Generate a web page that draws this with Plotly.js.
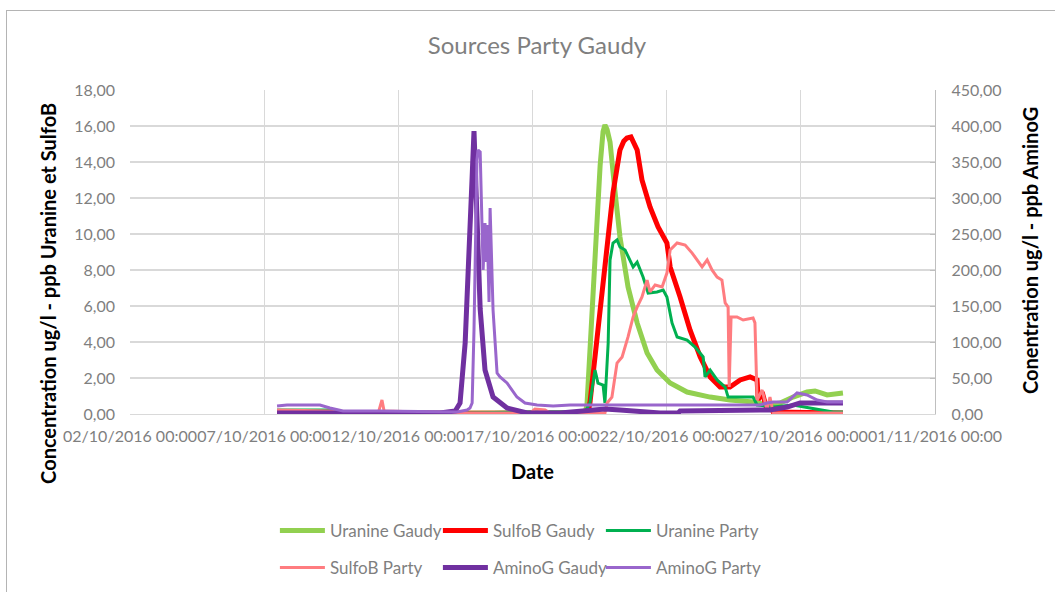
<!DOCTYPE html>
<html>
<head>
<meta charset="utf-8">
<script src="https://cdn.plot.ly/plotly-3.0.1.min.js"></script>
<style>
  html, body { margin: 0; padding: 0; background: #ffffff; overflow: hidden; }
  #wrap { position: absolute; left: 0; top: 0; width: 1055px; height: 592px; overflow: hidden; }
  #frame { position: absolute; left: 6px; top: 10px; width: 1200px; height: 700px; border: 1px solid #b4b4b4; box-sizing: border-box; }
  #chart { position: absolute; left: 0; top: 0; width: 1055px; height: 592px; }
</style>
</head>
<body>
<div id="wrap">
<div id="frame"></div>
<div id="chart"></div>
</div>
<script>
// x values are day-of-October 2016 (fractional days)
const uranineGaudyDay = [7.48, 18.96, 19.03, 19.22, 19.41, 19.52, 19.63, 19.70, 19.78, 19.89, 20.08, 20.26, 20.56, 20.90, 21.27, 21.64, 22.13, 22.76, 23.62, 24.36, 25.22, 25.74, 26.23, 26.71, 27.23, 27.53, 27.98, 28.46, 28.57];
const uranineGaudyVal = [0.03, 0.06, 0.5, 5.78, 11.33, 13.8, 15.7, 16.06, 15.8, 15.1, 12.28, 9.83, 7.06, 5.06, 3.39, 2.44, 1.72, 1.22, 0.94, 0.78, 0.67, 0.5, 0.61, 0.94, 1.22, 1.28, 1.06, 1.17, 1.17];

const sulfoBGaudyDay = [7.48, 19.07, 19.14, 19.52, 19.78, 20.00, 20.26, 20.40, 20.52, 20.67, 20.90, 21.08, 21.38, 21.68, 22.01, 22.13, 22.50, 22.87, 23.25, 23.62, 23.99, 24.36, 24.74, 25.11, 25.37, 25.41, 25.56, 25.74, 25.85, 25.97, 28.57];
const sulfoBGaudyVal = [0.03, 0.05, 0.61, 5.78, 9.5, 12.28, 14.67, 15.15, 15.33, 15.39, 14.67, 13.0, 11.5, 10.39, 9.5, 8.17, 6.5, 4.67, 3.17, 2.06, 1.5, 1.5, 1.89, 2.06, 1.89, 0.78, 1.22, 0.22, 0.5, 0.11, 0.05];

const uraninePartyDay = [7.48, 9.45, 9.94, 14.30, 16.91, 18.96, 19.14, 19.33, 19.44, 19.63, 19.70, 19.82, 19.89, 20.00, 20.15, 20.26, 20.45, 20.64, 20.75, 20.90, 21.01, 21.12, 21.31, 21.64, 21.87, 22.01, 22.20, 22.39, 22.76, 23.06, 23.36, 23.43, 23.62, 23.88, 24.18, 24.29, 25.22, 25.37, 25.97, 26.71, 27.34, 28.20, 28.57];
const uraninePartyVal = [0.22, 0.22, 0.11, 0.05, 0.11, 0.11, 0.61, 2.44, 1.72, 1.61, 0.61, 3.94, 8.56, 9.5, 9.67, 9.28, 9.11, 8.56, 8.17, 8.44, 8.0, 7.61, 6.72, 6.78, 6.89, 6.5, 5.06, 4.28, 4.11, 3.72, 3.17, 2.06, 2.44, 1.89, 1.5, 0.94, 0.94, 0.5, 0.39, 0.5, 0.33, 0.11, 0.11];

const sulfoBPartyDay = [7.48, 9.45, 9.94, 11.25, 11.39, 11.47, 14.30, 16.91, 17.09, 17.47, 17.65, 19.70, 19.78, 19.96, 20.15, 20.34, 20.56, 20.75, 20.90, 21.08, 21.27, 21.38, 21.57, 21.83, 22.01, 22.13, 22.39, 22.69, 22.95, 23.13, 23.32, 23.51, 23.69, 23.88, 24.06, 24.18, 24.29, 24.33, 24.40, 24.62, 24.85, 25.22, 25.29, 25.37, 25.56, 25.74, 25.85, 25.97, 28.57];
const sulfoBPartyVal = [0.22, 0.17, 0.05, 0.05, 0.78, 0.17, 0.05, 0.05, 0.28, 0.22, 0.05, 0.05, 0.61, 0.94, 2.83, 3.17, 4.28, 5.39, 5.94, 6.5, 7.44, 6.78, 7.17, 7.06, 7.83, 9.11, 9.5, 9.39, 8.94, 8.56, 8.17, 8.56, 8.0, 7.61, 7.44, 6.17, 5.94, 1.5, 5.39, 5.39, 5.22, 5.33, 5.06, 0.78, 1.33, 0.22, 0.94, 0.05, 0.05];

const aminoGGaudyDay = [7.48, 8.34, 10.57, 13.55, 14.12, 14.30, 14.49, 14.60, 14.67, 14.75, 14.82, 14.93, 15.05, 15.23, 15.53, 16.05, 16.80, 18.03, 19.14, 19.70, 20.26, 21.75, 22.43, 22.50, 25.48, 25.85, 26.49, 26.97, 27.46, 28.57];
const aminoGGaudyVal = [1.4, 1.4, 0.7, 1.4, 4.2, 15.3, 98.6, 213.9, 276, 329.2, 393, 283.3, 145.8, 61.1, 23.6, 8.3, 1.4, 1.4, 5.6, 6.9, 5.6, 1.4, 1.4, 4.2, 5.6, 5.6, 9.7, 15.3, 15.3, 15.3];

const aminoGPartyDay = [7.48, 7.85, 9.08, 9.45, 9.94, 11.32, 14.19, 14.56, 14.67, 14.75, 14.82, 14.86, 14.93, 14.97, 15.05, 15.12, 15.16, 15.23, 15.27, 15.31, 15.38, 15.42, 15.49, 15.53, 15.68, 15.79, 16.05, 16.42, 16.72, 17.17, 17.77, 18.40, 19.52, 23.25, 25.48, 25.74, 25.97, 26.49, 26.86, 27.23, 27.61, 27.98, 28.57];
const aminoGPartyVal = [11.1, 12.5, 12.5, 8.3, 4.2, 4.2, 2.8, 5.6, 8.3, 15.3, 116.7, 223.6, 352.8, 366.7, 363.9, 259.7, 200, 265.3, 211, 262.5, 155.6, 286.1, 169.4, 144.4, 56.9, 51.4, 43.1, 23.6, 15.3, 12.5, 11.1, 12.5, 12.5, 12.5, 12.5, 15.3, 16.7, 16.7, 29.2, 26.4, 19.4, 16.7, 16.7];

const seriesNames = ["Uranine Gaudy", "SulfoB Gaudy", "Uranine Party", "SulfoB Party", "AminoG Gaudy", "AminoG Party"];
const chartTitle = "Sources Party Gaudy";
const xTitle = "Date";
const yTitle = "Concentration ug/l - ppb Uranine et SulfoB";
const y2Title = "Conentration ug/l - ppb AminoG";

const octStart = Date.UTC(2016, 9, 0); // day 0 of October
function toDates(days) {
  return days.map(d => {
    const t = new Date(octStart + d * 86400000);
    return t.toISOString().replace('T', ' ').slice(0, 19);
  });
}

const FONT = "Lato, 'Open Sans', sans-serif";
function tr(name, days, vals, color, width, yaxis, legend) {
  return { type: 'scatter', mode: 'lines', name: name, x: toDates(days), y: vals,
    line: { color: color, width: width }, yaxis: yaxis, legend: legend };
}
const data = [
  tr(seriesNames[0], uranineGaudyDay, uranineGaudyVal, '#92d050', 5, 'y', 'legend'),
  tr(seriesNames[1], sulfoBGaudyDay, sulfoBGaudyVal, '#ff0000', 5, 'y', 'legend'),
  tr(seriesNames[2], uraninePartyDay, uraninePartyVal, '#00b050', 3, 'y', 'legend'),
  tr(seriesNames[3], sulfoBPartyDay, sulfoBPartyVal, '#ff7c80', 3, 'y', 'legend2'),
  tr(seriesNames[4], aminoGGaudyDay, aminoGGaudyVal, '#7030a0', 5, 'y2', 'legend2'),
  tr(seriesNames[5], aminoGPartyDay, aminoGPartyVal, '#9966cc', 3, 'y2', 'legend2')
];

const legendCommon = { orientation: 'h', xanchor: 'left', yanchor: 'middle', x: 0.18,
  font: { family: FONT, size: 17, color: '#7f7f7f' }, bgcolor: 'rgba(0,0,0,0)',
  entrywidth: 103, entrywidthmode: 'pixels', itemwidth: 45, tracegroupgap: 0 };

const titleFont = { family: FONT, size: 20, color: '#000000', weight: 'bold' };

const layout = {
  width: 1055, height: 592,
  paper_bgcolor: 'rgba(0,0,0,0)', plot_bgcolor: 'rgba(0,0,0,0)',
  separators: ', ',
  margin: { l: 130, r: 120, t: 90, b: 178, autoexpand: false },
  font: { family: FONT, color: '#7f7f7f' },
  title: { text: chartTitle, font: { family: FONT, size: 24, color: '#7f7f7f' }, x: 0.509, xanchor: 'center', y: 0.923, yanchor: 'middle' },
  xaxis: {
    type: 'date', range: ['2016-10-02', '2016-11-01'], tick0: '2016-10-02', dtick: 432000000,
    tickformat: '%d/%m/%Y %H:%M', tickangle: 0, showgrid: true, gridcolor: '#d9d9d9', gridwidth: 1.3,
    showline: true, linecolor: '#d9d9d9', linewidth: 1.3, ticks: '', ticklabelstandoff: 7,
    tickfont: { family: FONT, size: 16, color: '#7f7f7f' },
    title: { text: xTitle, font: titleFont, standoff: 21 },
    automargin: false, zeroline: false
  },
  yaxis: {
    range: [0, 18], dtick: 2, tickformat: '.2f', showgrid: true, gridcolor: '#d9d9d9', gridwidth: 1.3,
    zeroline: false, showline: false, ticks: '', ticklabelstandoff: 14,
    tickfont: { family: FONT, size: 16, color: '#7f7f7f' },
    automargin: false
  },
  yaxis2: {
    overlaying: 'y', side: 'right', range: [0, 450], dtick: 50, tickformat: '.2f', showgrid: false,
    zeroline: false, showline: true, linecolor: '#bfbfbf', linewidth: 1.3, ticks: 'inside', ticklen: 5, tickcolor: '#bfbfbf',
    ticklabelstandoff: 12,
    tickfont: { family: FONT, size: 16, color: '#7f7f7f' },
    automargin: false
  },
  annotations: [
    { text: yTitle, textangle: -90, xref: 'paper', yref: 'paper', x: -0.102, y: 0.3735,
      xanchor: 'center', yanchor: 'middle', showarrow: false, font: titleFont },
    { text: y2Title, textangle: -90, xref: 'paper', yref: 'paper', x: 1.118, y: 0.506,
      xanchor: 'center', yanchor: 'middle', showarrow: false, font: titleFont }
  ],
  legend: Object.assign({}, legendCommon, { y: -0.361 }),
  legend2: Object.assign({}, legendCommon, { y: -0.475 }),
  showlegend: true
};

Plotly.newPlot('chart', data, layout, { displayModeBar: false, staticPlot: true });
</script>
</body>
</html>
